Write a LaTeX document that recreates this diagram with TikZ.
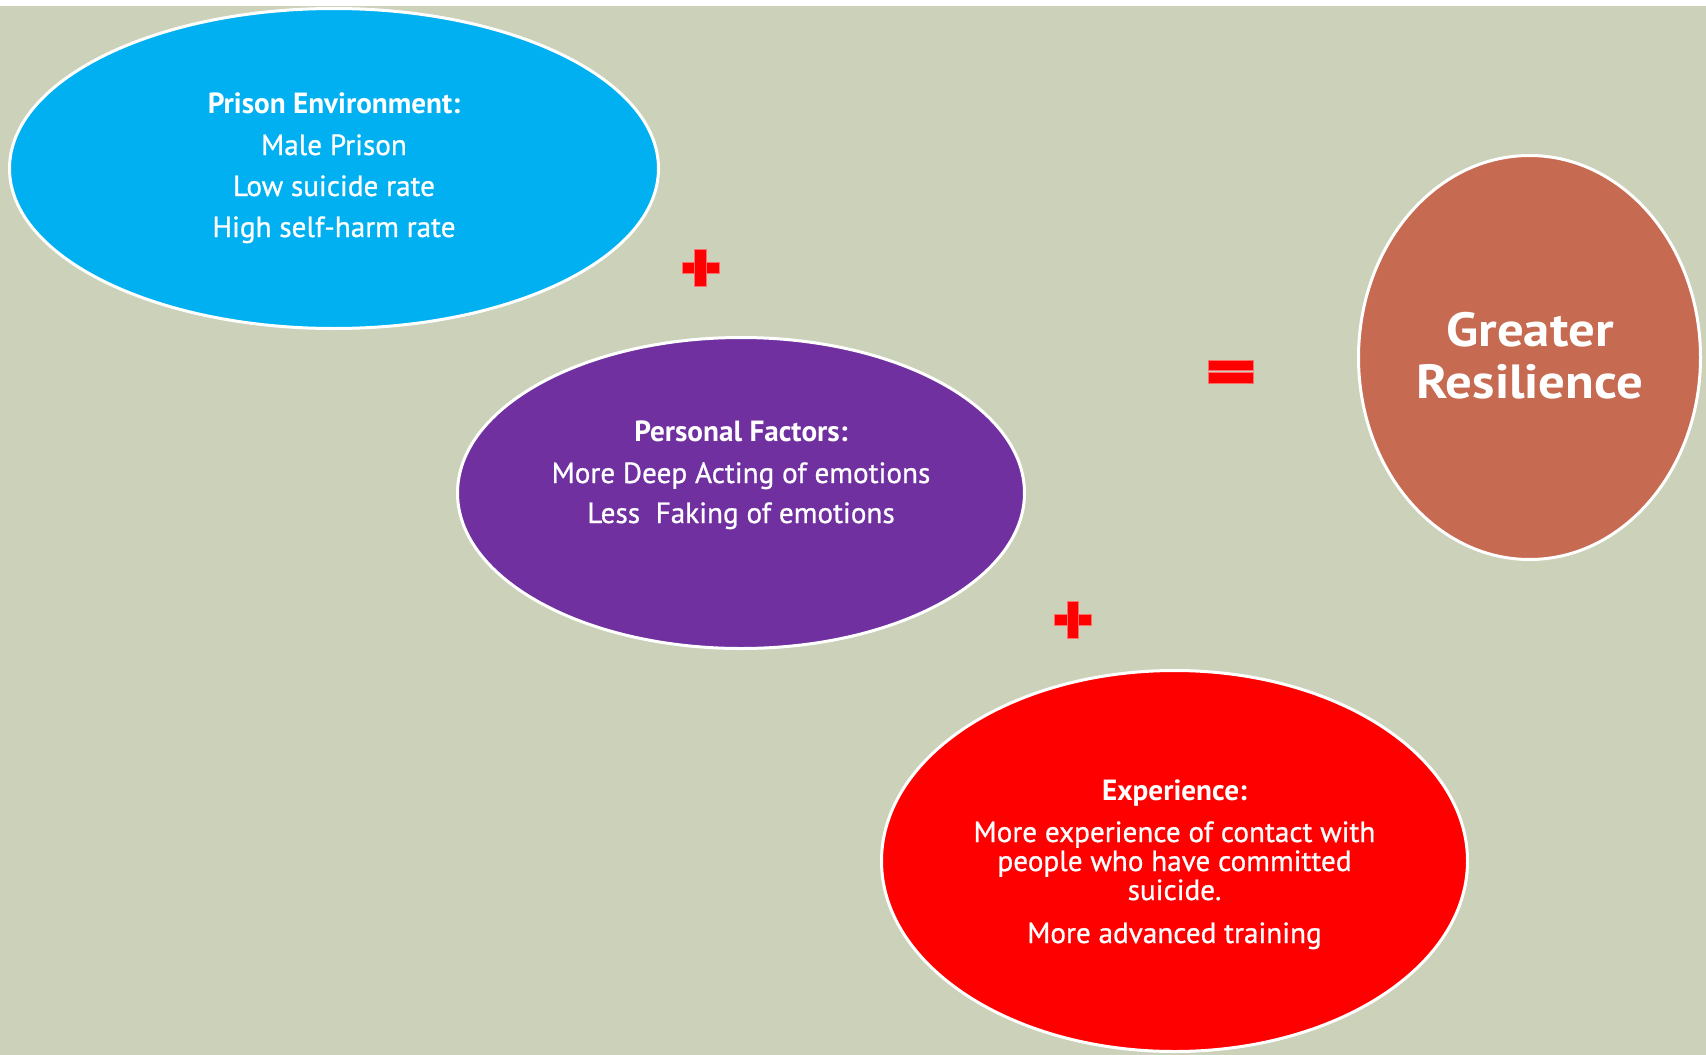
\documentclass[tikz,border=0pt]{standalone}
\usepackage{fontspec}
\setmainfont{PT Sans}
\newfontfamily\bodyfont[FakeBold=0.8]{PT Sans}
\newfontfamily\titlefont[FakeStretch=1.1]{PT Sans}
\usetikzlibrary{shapes.geometric}
\definecolor{bgsage}{RGB}{204,209,186}
\definecolor{cblue}{RGB}{0,176,240}
\definecolor{cpurple}{RGB}{112,48,160}
\definecolor{cred}{RGB}{255,0,0}
\definecolor{cbrown}{RGB}{198,106,82}
\definecolor{opedge}{RGB}{255,110,110}
\tikzset{
  blob/.style={ellipse, draw=white, line width=3pt, inner sep=0pt},
  bodytxt/.style={anchor=base, text=white, inner sep=0pt, font=\bodyfont\fontsize{29.2}{34}\selectfont},
  headtxt/.style={anchor=base, text=white, inner sep=0pt, font=\fontsize{29.2}{34}\selectfont\bfseries},
  bigtxt/.style={anchor=base, text=white, inner sep=0pt, font=\titlefont\fontsize{48}{56}\selectfont\bfseries},
  opbar/.style={fill=cred, draw=opedge, line width=0.6pt}
}
\begin{document}
\begin{tikzpicture}[x=1pt,y=-1pt]
\useasboundingbox (0,0) rectangle (1706,1055);
\fill[white] (0,0) rectangle (1706,6);
\fill[bgsage] (0,6) rectangle (1706,1055);

% ellipses
\node[blob, fill=cblue, minimum width=649pt, minimum height=320pt] (env) at (334,168.5) {};
\node[blob, fill=cpurple, minimum width=567pt, minimum height=311pt] (pers) at (741,493) {};
\node[blob, fill=cred, minimum width=586pt, minimum height=381pt] (exp) at (1174.5,861) {};
\node[blob, fill=cbrown, minimum width=342pt, minimum height=404pt] (res) at (1529.5,357.5) {};

% texts: prison environment
\node[headtxt] (envh) at (334,113) {Prison Environment:};
\node[bodytxt] (env1) at (334,155) {Male Prison};
\node[bodytxt] (env2) at (334,196) {Low suicide rate};
\node[bodytxt] (env3) at (334,237) {High self-harm rate};

% personal factors
\node[headtxt] (persh) at (741,441) {Personal Factors:};
\node[bodytxt] (pers1) at (741,483) {More Deep Acting of emotions};
\node[bodytxt] (pers2) at (741,523) {Less\ \ Faking of emotions};

% experience
\node[headtxt] (exph) at (1174.5,800) {Experience:};
\node[bodytxt] (exp1) at (1174.5,842) {More experience of contact with};
\node[bodytxt] (exp2) at (1174.5,871) {people who have committed};
\node[bodytxt] (exp3) at (1174.5,900) {suicide.};
\node[bodytxt] (exp4) at (1174.5,943) {More advanced training};

% result
\node[bigtxt] (res1) at (1530,346) {Greater};
\node[bigtxt] (res2) at (1530,398) {Resilience};

% operators
\filldraw[opbar] (682,262) rectangle (719,273);
\filldraw[opbar] (694,249) rectangle (706,286);
\filldraw[opbar] (1054,614) rectangle (1091,625);
\filldraw[opbar] (1067,601) rectangle (1078,638);
\filldraw[opbar] (1208,360) rectangle (1253,370);
\filldraw[opbar] (1208,372.5) rectangle (1253,383);
\end{tikzpicture}
\end{document}
